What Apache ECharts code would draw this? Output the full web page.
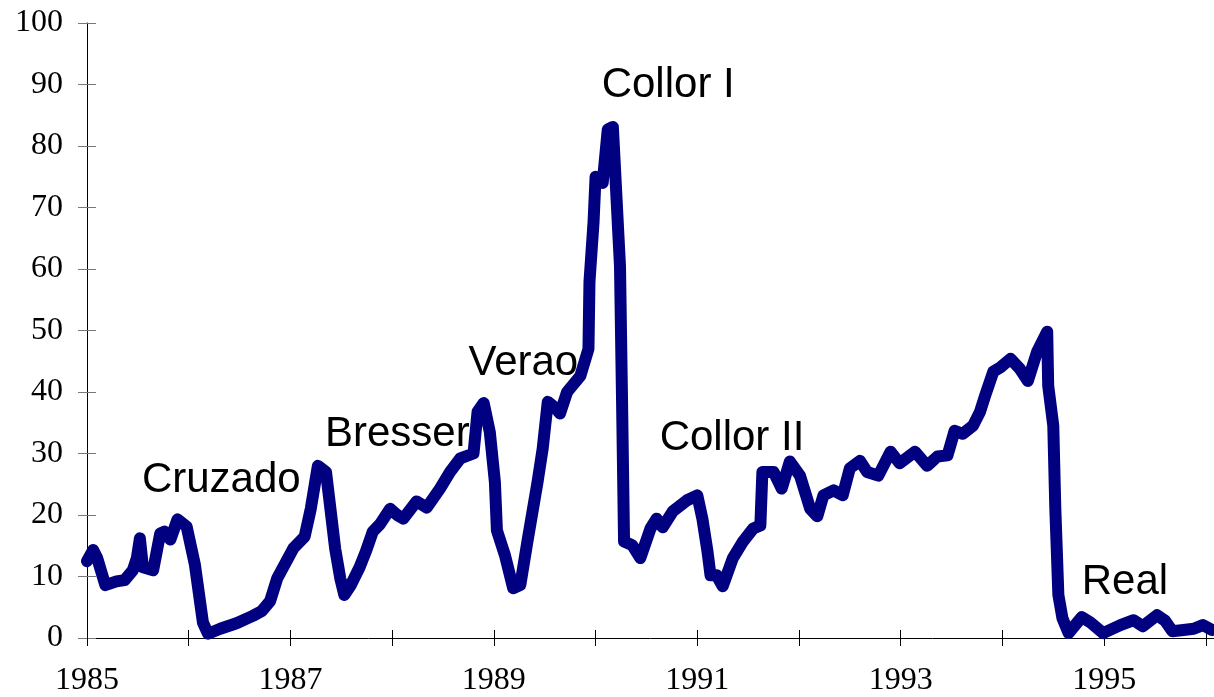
<!DOCTYPE html>
<html>
<head>
<meta charset="utf-8">
<script src="https://cdn.jsdelivr.net/npm/echarts@6/dist/echarts.min.js"></script>
<style>
html,body{margin:0;padding:0;background:#fff;}
#chart{width:1214px;height:697px;}
</style>
</head>
<body>
<div id="chart"></div>
<script>
// Decimal year of each vertex of the curve
const years = [1985.00,1985.06,1985.10,1985.18,1985.29,1985.37,1985.45,1985.49,1985.52,1985.55,
1985.65,1985.72,1985.76,1985.82,1985.89,1985.98,1986.06,1986.14,1986.19,1986.31,
1986.47,1986.63,1986.72,1986.80,1986.87,1987.03,1987.14,1987.20,1987.27,1987.35,
1987.44,1987.49,1987.53,1987.59,1987.68,1987.74,1987.81,1987.88,1987.98,1988.05,
1988.11,1988.24,1988.34,1988.47,1988.57,1988.67,1988.80,1988.84,1988.90,1988.96,
1989.01,1989.03,1989.11,1989.19,1989.26,1989.33,1989.43,1989.48,1989.53,1989.60,
1989.65,1989.72,1989.85,1989.93,1989.94,1989.98,1990.00,1990.07,1990.12,1990.17,
1990.24,1990.26,1990.28,1990.36,1990.44,1990.54,1990.60,1990.66,1990.76,1990.90,
1991.00,1991.05,1991.10,1991.13,1991.19,1991.25,1991.35,1991.45,1991.55,1991.62,
1991.64,1991.75,1991.83,1991.91,1992.01,1992.11,1992.18,1992.24,1992.34,1992.43,
1992.50,1992.60,1992.67,1992.78,1992.90,1992.99,1993.14,1993.26,1993.36,1993.46,
1993.53,1993.61,1993.71,1993.78,1993.83,1993.91,1993.98,1994.08,1994.17,1994.25,
1994.34,1994.44,1994.45,1994.50,1994.52,1994.55,1994.59,1994.65,1994.78,1994.86,
1994.99,1995.16,1995.29,1995.38,1995.52,1995.60,1995.67,1995.78,1995.88,1995.97,1996.06];

// Monthly inflation rate (%) read at each vertex
const values = [12.5,14.3,13,8.6,9.2,9.4,11,13,16.2,11.5,
11,17,17.3,16,19.3,18.1,12,2.5,0.7,1.5,
2.4,3.6,4.4,6,9.7,14.6,16.5,21,28,27,
14.5,9.7,7,8.5,11.5,14,17.3,18.5,21,20,
19.4,22.2,21.2,24.3,27,29.2,30,36.8,38.2,33.5,
25.4,17.5,13.4,8.1,8.6,15.7,25.4,30.8,38.4,37.5,
36.5,40,42.6,47,57.9,67.6,75,74,82.7,83.1,
60.5,38.9,15.7,15.1,13,17.8,19.4,18,20.6,22.4,
23.2,19.4,14.1,10.2,10.2,8.4,13,15.7,17.8,18.3,
27,27,24.3,28.7,26.4,21,19.8,23.2,24,23.2,
27.6,28.8,27,26.4,30.3,28.4,30.3,28,29.5,29.7,
33.7,33.2,34.5,36.8,39.4,43.3,44,45.4,43.8,41.8,
46.5,49.8,41,34.5,21,7,3.2,0.8,3.4,2.6,
0.8,2.1,2.9,1.9,3.7,2.8,1.1,1.3,1.5,2.1,1.3];

// Tick values / labels
const yearTicks = [1985,1986,1987,1988,1989,1990,1991,1992,1993,1994,1995,1996];
const yearLabels = [1985,1987,1989,1991,1993,1995];

// Stabilization plans (annotation text)
const planNames = ['Cruzado','Bresser','Verao','Collor I','Collor II','Real'];
const planYears = [1985.54,1987.34,1988.75,1990.06,1990.63,1994.78];
const planLevels = [25.6,33.1,44.7,89.8,32.4,9.1];

const chart = echarts.init(document.getElementById('chart'));
const serif = '"Liberation Serif","Times New Roman",serif';
const sans = '"Liberation Sans",Arial,sans-serif';

const X_MIN = 1985, X_MAX = 1996.08;

const option = {
  animation: false,
  backgroundColor: '#ffffff',
  grid: { left: 87, right: 0, top: 23, bottom: 57, containLabel: false },
  xAxis: [
    {
      type: 'value', min: X_MIN, max: X_MAX, position: 'bottom',
      axisLine: { show: true, onZero: false, lineStyle: { color: '#000', width: 1 } },
      axisTick: { show: true, inside: false, length: 8, customValues: yearTicks, lineStyle: { color: '#000' } },
      axisLabel: { show: true, customValues: yearLabels, margin: 27, fontFamily: serif, fontSize: 32, color: '#000',
                   formatter: v => String(Math.round(v)) },
      splitLine: { show: false }
    },
    {
      type: 'value', min: X_MIN, max: X_MAX, position: 'bottom',
      axisLine: { show: false, onZero: false },
      axisTick: { show: true, inside: true, length: 8, customValues: yearTicks, lineStyle: { color: '#000' } },
      axisLabel: { show: false },
      splitLine: { show: false }
    }
  ],
  yAxis: [
    {
      type: 'value', min: 0, max: 100, interval: 10, position: 'left',
      axisLine: { show: true, onZero: false, lineStyle: { color: '#000', width: 1 } },
      axisTick: { show: true, inside: false, length: 9, lineStyle: { color: '#777' } },
      axisLabel: { show: true, margin: 24, fontFamily: serif, fontSize: 32, color: '#000' },
      splitLine: { show: false }
    },
    {
      type: 'value', min: 0, max: 100, interval: 10, position: 'left',
      axisLine: { show: false, onZero: false },
      axisTick: { show: true, inside: true, length: 9, lineStyle: { color: '#777' } },
      axisLabel: { show: false },
      splitLine: { show: false }
    }
  ],
  series: [
    {
      type: 'line',
      xAxisIndex: 0, yAxisIndex: 0,
      data: years.map((y, i) => [y, values[i]]),
      showSymbol: false,
      symbol: 'none',
      smooth: false,
      clip: false,
      lineStyle: { color: '#000080', width: 12, cap: 'round', join: 'round' },
      markPoint: {
        symbol: 'circle', symbolSize: 0, silent: true,
        label: {
          show: true, position: 'inside', align: 'left', verticalAlign: 'middle',
          fontFamily: sans, fontSize: 42, color: '#000',
          formatter: p => p.name
        },
        data: planNames.map((n, i) => ({ name: n, coord: [planYears[i], planLevels[i]] }))
      }
    }
  ]
};
chart.setOption(option);
</script>
</body>
</html>
